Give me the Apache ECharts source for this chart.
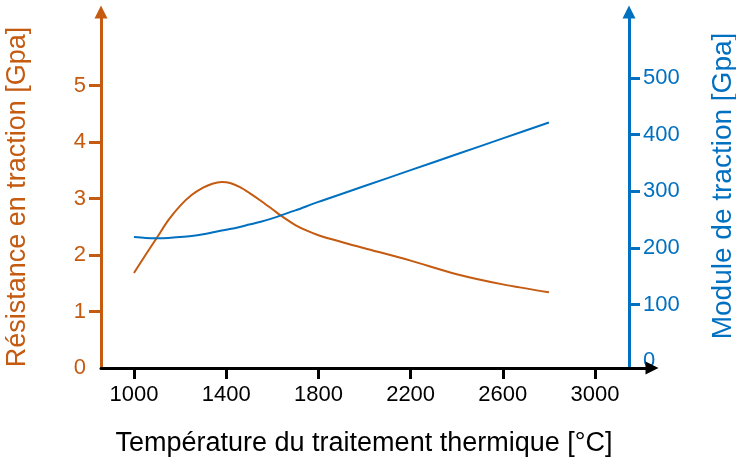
<!DOCTYPE html>
<html>
<head>
<meta charset="utf-8">
<script src="https://cdn.jsdelivr.net/npm/echarts@6/dist/echarts.min.js"></script>
<style>
  html, body { margin: 0; padding: 0; background: #fff; }
  #chart { width: 736px; height: 460px; }
</style>
</head>
<body>
<div id="chart"></div>
<script>
  // tensile strength [GPa] vs temperature (°C), left axis
  var resTemps = [1000, 1050, 1100, 1150, 1200, 1250, 1300, 1340, 1380, 1420, 1460, 1500, 1550, 1600, 1650, 1700, 1750, 1800, 1900, 2000, 2200, 2400, 2600, 2800];
  var resistance = [1.68, 2.00, 2.31, 2.62, 2.87, 3.06, 3.19, 3.26, 3.29, 3.27, 3.20, 3.10, 2.96, 2.81, 2.66, 2.53, 2.43, 2.35, 2.23, 2.12, 1.90, 1.66, 1.48, 1.34];
  // tensile modulus [GPa] vs temperature (°C), right axis
  var modTemps = [1000, 1050, 1100, 1150, 1200, 1250, 1300, 1350, 1400, 1450, 1500, 1550, 1600, 1650, 1700, 1800, 1900, 2000, 2200, 2400, 2600, 2800];
  var modulus = [219, 217.5, 217, 217.5, 219, 221, 224, 228, 232, 236, 241, 246, 252, 259, 266, 281, 295, 309, 337, 365, 393, 421];

  var xTicks = [1000, 1400, 1800, 2200, 2600, 3000];
  var leftTicks = [1, 2, 3, 4, 5];
  var leftLabels = [0, 1, 2, 3, 4, 5];
  var rightTicks = [100, 200, 300, 400, 500];
  var rightLabels = [0, 100, 200, 300, 400, 500];

  var orange = '#c55a11';
  var blue = '#0070c0';
  var font = '"Liberation Sans", Arial, sans-serif';

  function pairs(xs, ys) {
    return xs.map(function (x, i) { return [x, ys[i]]; });
  }
  function plain(v) { return String(v); }

  var chart = echarts.init(document.getElementById('chart'));
  chart.setOption({
    animation: false,
    grid: { left: 101, right: 84, top: 12, bottom: 92, outerBoundsMode: 'none', containLabel: false },
    xAxis: {
      type: 'value',
      min: 857,
      max: 3247,
      name: 'Température du traitement thermique [°C]',
      nameLocation: 'middle',
      nameGap: 62,
      nameTextStyle: { color: '#000', fontSize: 27, fontFamily: font, padding: [0, 25, 0, 0] },
      axisLine: {
        lineStyle: { color: '#000', width: 3 },
        symbol: ['none', 'triangle'],
        symbolSize: [13, 13]
      },
      axisTick: { customValues: xTicks, length: 11, lineStyle: { color: '#000', width: 3 } },
      axisLabel: { customValues: xTicks, formatter: plain, margin: 16, color: '#000', fontSize: 22, fontFamily: font },
      splitLine: { show: false }
    },
    yAxis: [
      {
        type: 'value',
        position: 'left',
        min: 0,
        max: 6.3,
        name: 'Résistance en traction [Gpa]',
        nameLocation: 'middle',
        nameGap: 70,
        nameTextStyle: { color: orange, fontSize: 27, fontFamily: font, padding: [0, 14, 0, 0] },
        axisLine: {
          show: true,
          lineStyle: { color: orange, width: 3 },
          symbol: ['none', 'triangle'],
          symbolSize: [13, 13]
        },
        axisTick: { show: true, customValues: leftTicks, length: 12, lineStyle: { color: orange, width: 3 } },
        axisLabel: { customValues: leftLabels, formatter: plain, margin: 15, color: orange, fontSize: 22, fontFamily: font },
        splitLine: { show: false }
      },
      {
        type: 'value',
        position: 'right',
        offset: -23,
        min: -12,
        max: 616,
        name: 'Module de traction [Gpa]',
        nameLocation: 'middle',
        nameGap: 80,
        nameTextStyle: { color: blue, fontSize: 28, fontFamily: font, padding: [0, 0, 0, 8] },
        axisLine: {
          show: true,
          lineStyle: { color: blue, width: 3 },
          symbol: ['none', 'triangle'],
          symbolSize: [13, 13]
        },
        axisTick: { show: true, customValues: rightTicks, length: 11, lineStyle: { color: blue, width: 3 } },
        axisLabel: { customValues: rightLabels, formatter: plain, margin: 14, color: blue, fontSize: 22, fontFamily: font },
        splitLine: { show: false }
      }
    ],
    series: [
      {
        name: 'Résistance en traction',
        type: 'line',
        yAxisIndex: 0,
        smooth: 0.3,
        showSymbol: false,
        lineStyle: { color: orange, width: 2 },
        data: pairs(resTemps, resistance)
      },
      {
        name: 'Module de traction',
        type: 'line',
        yAxisIndex: 1,
        smooth: 0.3,
        showSymbol: false,
        lineStyle: { color: blue, width: 2 },
        data: pairs(modTemps, modulus)
      }
    ]
  });
</script>
</body>
</html>
